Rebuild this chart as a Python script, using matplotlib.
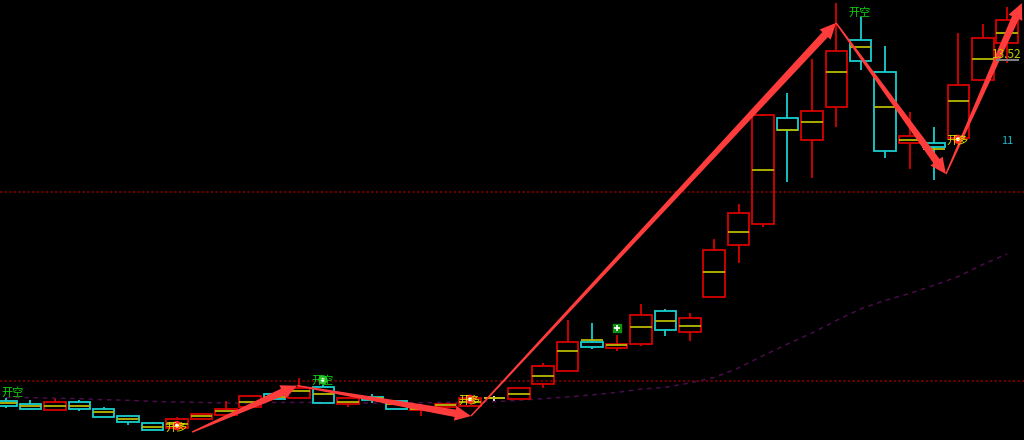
import numpy as np
import matplotlib
matplotlib.use("Agg")
import matplotlib.pyplot as plt
from matplotlib.patches import Polygon
from matplotlib.transforms import IdentityTransform

plt.rcParams['font.family'] = ['Noto Sans CJK SC', 'DejaVu Sans']

# daily bars
opens  = [3.39, 3.29, 3.11, 3.36, 3.15, 2.94, 2.74, 2.58, 2.84, 2.97,
          3.20, 3.59, 3.46, 3.78, 3.28, 3.51, 3.37, 3.12, 3.20, 3.23,
          3.48, 3.45, 3.87, 4.27, 5.12, 4.94, 5.06, 6.02, 5.39, 6.42,
          7.94, 8.56, 11.66, 11.04, 11.99, 13.96, 13.03, 10.95, 10.93, 11.08,
          12.78, 13.88]
closes = [3.24, 3.16, 3.36, 3.14, 2.90, 2.76, 2.53, 2.85, 3.00, 3.16,
          3.53, 3.44, 3.75, 3.32, 3.47, 3.42, 3.16, 3.18, 3.28, 3.46,
          3.48, 3.75, 4.40, 5.11, 4.97, 5.04, 5.90, 5.47, 5.80, 7.80,
          8.88, 11.76, 11.31, 11.88, 13.63, 13.35, 10.71, 11.15, 10.81, 12.64,
          14.01, 14.54]
highs  = [3.47, 3.41, 3.44, 3.40, 3.21, 2.96, 2.77, 2.91, 3.04, 3.39,
          3.56, 3.60, 4.05, 3.85, 3.48, 3.59, 3.38, 3.29, 3.29, 3.54,
          3.53, 3.76, 4.49, 5.75, 5.66, 5.31, 6.22, 6.07, 5.97, 8.13,
          9.14, 11.78, 12.40, 13.40, 15.03, 14.62, 13.78, 11.85, 11.42, 14.15,
          14.43, 14.93]
lows   = [3.18, 3.12, 3.11, 3.09, 2.90, 2.68, 2.53, 2.58, 2.82, 2.97,
          3.20, 3.43, 3.46, 3.32, 3.20, 3.31, 3.15, 2.95, 3.19, 3.23,
          3.39, 3.45, 3.77, 4.27, 4.90, 4.85, 5.00, 5.29, 5.14, 6.42,
          7.43, 8.49, 9.79, 9.91, 11.41, 13.08, 10.51, 10.17, 9.86, 11.08,
          12.78, 13.28]
avg_px = [3.32, 3.23, 3.24, 3.23, 3.05, 2.85, 2.63, 2.72, 2.93, 3.09,
          3.36, 3.51, 3.68, 3.58, 3.36, 3.48, 3.28, 3.15, 3.25, 3.35,
          3.48, 3.59, 4.11, 4.84, 5.17, 5.02, 5.56, 5.72, 5.57, 7.17,
          8.34, 10.14, 11.32, 11.56, 13.03, 13.76, 12.00, 11.03, 10.76, 12.17,
          13.39, 14.17]
ma = [3.48, 3.48, 3.46, 3.45, 3.42, 3.40, 3.37, 3.35, 3.34, 3.32,
      3.32, 3.34, 3.34, 3.34, 3.32, 3.32, 3.32, 3.33, 3.34, 3.35,
      3.36, 3.40, 3.45, 3.50, 3.56, 3.63, 3.73, 3.78, 3.91, 4.07,
      4.35, 4.71, 5.05, 5.37, 5.74, 6.08, 6.33, 6.53, 6.77, 7.03,
      7.38, 7.69]

levels = [9.50, 3.98]

# signals
sig_x = [0.25, 7.0, 12.98, 19.0, 34.97, 38.98]
sig_y = [3.62, 2.59, 3.97, 3.38, 14.75, 11.0]
sig_text = ["开空", "开多", "开空", "开多", "开空", "开多"]
dot_x = [7.0, 12.98, 19.0, 38.98]
dot_y = [2.66, 4.00, 3.43, 11.05]
dot_col = ["#ff2020", "#30c030", "#ff2020", "#ff2020"]

# hand-drawn trend arrows (bar index, price)
wave_x = [7.62, 11.92, 19.04, 33.99, 38.49, 41.6]
wave_y = [2.47, 3.83, 2.94, 14.46, 10.03, 15.04]

last_label = 13.52
side_label = 11.0

RED = "#d80000"
CYAN = "#18d0d0"
WHITE = "#e8e8e8"
YEL = "#b8b800"

fig = plt.figure(figsize=(10.24, 4.4), dpi=100, facecolor="black")
ax = fig.add_axes([0, 0, 1, 1], facecolor="black")
ax.set_xlim(-0.2457, 41.687)
ax.set_ylim(2.238, 15.13)
ax.axis("off")

idx = np.arange(len(opens))
o = np.array(opens)
c = np.array(closes)
h = np.array(highs)
l = np.array(lows)
cols = [RED if cc > oo else (CYAN if cc < oo else WHITE) for oo, cc in zip(o, c)]
top = np.maximum(o, c)
bot = np.minimum(o, c)
w = 0.88

for lv in levels:
    ax.axhline(lv, color="#8a0000", lw=1.1, ls=(0, (1.5, 1.5)), zorder=1)

ax.plot(idx, ma, color="#4a0c4a", lw=1.1, ls=(0, (3, 3)), zorder=1)

ax.vlines(idx, top, h, colors=cols, lw=1.3, zorder=2)
ax.vlines(idx, l, bot, colors=cols, lw=1.3, zorder=2)
ax.bar(idx, top - bot, w, bottom=bot, fill=False, edgecolor=cols, lw=1.3, zorder=3)
ax.hlines(avg_px, idx - w / 2, idx + w / 2, colors=YEL, lw=1.3, zorder=3)


def draw_arrow(p0, p1, w0=1.5, w1=7.5, head_len=16.0, head_w=15.0):
    x0, y0 = ax.transData.transform(p0)
    x1, y1 = ax.transData.transform(p1)
    L = np.hypot(x1 - x0, y1 - y0)
    ux, uy = (x1 - x0) / L, (y1 - y0) / L
    nx, ny = -uy, ux
    bx, by = x1 - ux * head_len, y1 - uy * head_len
    pts = [(x0 + nx * w0 / 2, y0 + ny * w0 / 2),
           (bx + nx * w1 / 2, by + ny * w1 / 2),
           (bx + nx * head_w / 2, by + ny * head_w / 2),
           (x1, y1),
           (bx - nx * head_w / 2, by - ny * head_w / 2),
           (bx - nx * w1 / 2, by - ny * w1 / 2),
           (x0 - nx * w0 / 2, y0 - ny * w0 / 2)]
    ax.add_patch(Polygon(pts, closed=True, transform=IdentityTransform(),
                         facecolor="#ff3c3c", edgecolor="none", zorder=5))


for k in range(len(wave_x) - 1):
    draw_arrow((wave_x[k], wave_y[k]), (wave_x[k + 1], wave_y[k + 1]))

# markers
ax.scatter(dot_x, dot_y, s=45, c=dot_col, zorder=6, edgecolors="none")
ax.scatter(dot_x, dot_y, s=8, c="white", zorder=7, edgecolors="none")
ax.scatter([25], [5.52], s=40, marker="s", c="#109010", zorder=6)
ax.scatter([25], [5.52], s=18, marker="+", c="white", lw=1.2, zorder=7)

for x, y, t in zip(sig_x, sig_y, sig_text):
    col = "#10d010" if t == "开空" else "#e0e000"
    ax.text(x, y, t, color=col, fontsize=8, ha="center", va="center", zorder=8)

ax.text(41.0, last_label, f"{last_label:.2f}", color="#c8c800", fontsize=8.5,
        ha="center", va="center", zorder=8)
ax.hlines(last_label - 0.15, 40.55, 41.5, colors="#808080", lw=1.5, zorder=8)
ax.text(41.0, side_label, f"{side_label:.0f}", color="#20b8c8", fontsize=8,
        ha="center", va="center", zorder=8)

plt.savefig("out.png", dpi=100, facecolor="black")
